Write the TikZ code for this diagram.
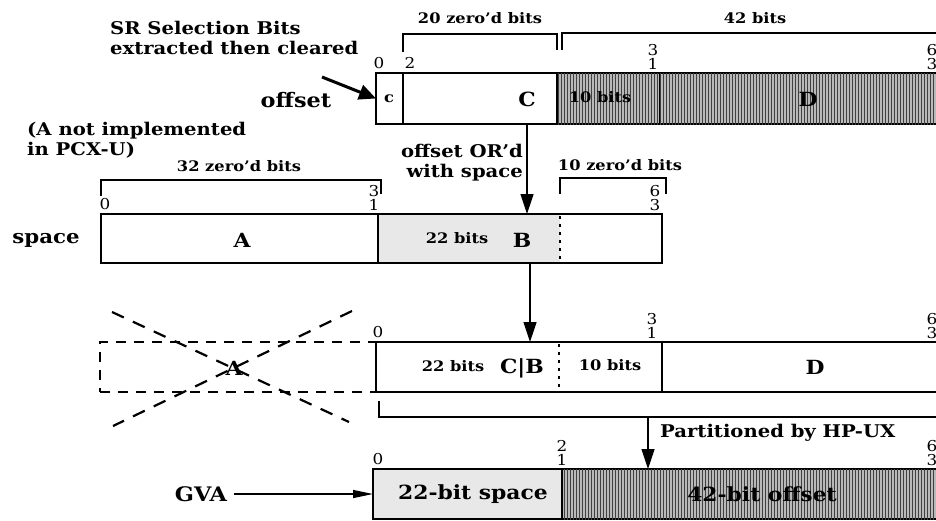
\documentclass[tikz,border=0pt]{standalone}
\usepackage{fontspec}
\setmainfont{DejaVu Serif}[FakeStretch=1.12]
\usetikzlibrary{arrows.meta,patterns}
\begin{document}
\begin{tikzpicture}[x=1pt,y=-1pt,
  cell/.style={draw,line width=1.3pt,inner sep=0pt,outer sep=0pt,anchor=north west},
  fillonly/.style={inner sep=0pt,outer sep=0pt,anchor=north west},
  light/.style={fill=gray!18},
  dark/.style={fill=gray!55,postaction={pattern=vertical lines,pattern color=black!75}},
  big/.style={font=\bfseries\fontsize{17.5}{20}\selectfont,inner sep=0pt},
  small/.style={font=\bfseries\fontsize{14.5}{16}\selectfont,inner sep=0pt},
  cellt/.style={font=\bfseries\fontsize{19.5}{22}\selectfont,inner sep=0pt},
  tick/.style={font=\fontsize{15}{15}\selectfont,inner sep=0pt},
  brk/.style={line width=1.3pt},
  arr/.style={line width=1.2pt,-{Triangle[length=20pt,width=13pt]}},
  dashbox/.style={line width=1.3pt,dash pattern=on 10pt off 8pt},
  cross/.style={line width=2.2pt,dash pattern=on 13pt off 10pt},
  dotdiv/.style={line width=2.4pt,dash pattern=on 3pt off 5pt}
]
\useasboundingbox (0,0) rectangle (936,520);
\clip (0,0) rectangle (936,520);
\fill[white] (0,0) rectangle (936,520);

% ---------- offset row ----------
\node[cell,minimum width=27pt,minimum height=51pt] (oc) at (376,73) {};
\node[cell,minimum width=154pt,minimum height=51pt] (oC) at (403,73) {};
\node[cell,dark,minimum width=103pt,minimum height=51pt] (o10) at (557,73) {};
\node[cell,dark,minimum width=300pt,minimum height=51pt] (oD) at (660,73) {};
\node[small] (tc) at (389,99) {c};
\node[cellt] (tC) at (527,99) {C};
\node[small] (t10a) at (600,97) {10 bits};
\node[cellt] (tD) at (808,99) {D};
\node[tick] (k0a) at (379,63) {0};
\node[tick] (k2a) at (410,63) {2};
\node[tick] (k3a) at (653,50) {3};
\node[tick] (k1a) at (653,64) {1};
\node[tick] (k6a) at (932,50) {6};
\node[tick] (k3b) at (932,64) {3};
\node[small] (l20) at (480,18) {20 zero'd bits};
\draw[brk] (403,52) -- (403,34) -- (557,34) -- (557,50);
\node[small] (l42) at (755,18) {42 bits};
\draw[brk] (562,50) -- (562,33) -- (945,33);
\node[cellt,font=\bfseries\fontsize{20}{22}\selectfont] (loff) at (296,100) {offset};
\node[big,align=left,anchor=west] (lsr) at (110,38) {SR Selection Bits\\extracted then cleared};
\coordinate (srs) at (322,77);
\draw[line width=3pt,-{Triangle[length=17pt,width=15pt]}] (srs) -- (oc.west);

% ---------- space row ----------
\node[big,align=left,anchor=west] (lna) at (27,140) {(A not implemented\\in PCX-U)};
\node[fillonly,light,minimum width=182pt,minimum height=49pt] (sB) at (378,214) {};
\node[cell,minimum width=561pt,minimum height=49pt] (sbox) at (101,214) {};
\draw[line width=1.3pt] (378,214) -- (378,263);
\draw[dotdiv] (560,216) -- (560,262);
\node[cellt,font=\bfseries\fontsize{19}{22}\selectfont] (lsp) at (46,240) {space};
\node[cellt] (tA) at (242,240) {A};
\node[small] (t22a) at (457,238) {22 bits};
\node[cellt] (tB) at (522,240) {B};
\node[tick] (k0b) at (105,204) {0};
\node[tick] (k3c) at (374,191) {3};
\node[tick] (k1b) at (374,205) {1};
\node[tick] (k6b) at (655,191) {6};
\node[tick] (k3d) at (655,205) {3};
\node[small] (l32) at (239,166) {32 zero'd bits};
\draw[brk] (101,196) -- (101,180) -- (381,180) -- (381,194);
\node[small] (l10) at (620,165) {10 zero'd bits};
\draw[brk] (560,194) -- (560,178) -- (666,178) -- (666,194);
\node[big,align=right,anchor=east] (lor) at (523,163) {offset OR'd\\with space};
\draw[arr] (527,124) -- (527,214);

% ---------- combined row ----------
\node[cell,dashbox,minimum width=276pt,minimum height=50pt] (dbox) at (100,342) {};
\node[cellt] (tAx) at (234,368) {A};
\draw[cross] (112,312) -- (349,422);
\draw[cross] (352,311) -- (113,426);
\node[cell,minimum width=570pt,minimum height=50pt] (tbox) at (376,342) {};
\draw[dotdiv] (559,344) -- (559,391);
\draw[line width=1.3pt] (662,342) -- (662,392);
\node[small] (t22b) at (453,366) {22 bits};
\node[cellt] (tCB) at (522,368) {C|B};
\node[small] (t10b) at (610,365) {10 bits};
\node[cellt] (tD2) at (815,367) {D};
\node[tick] (k0c) at (378,332) {0};
\node[tick] (k3e) at (652,319) {3};
\node[tick] (k1c) at (652,333) {1};
\node[tick] (k6c) at (932,319) {6};
\node[tick] (k3f) at (932,333) {3};
\draw[arr] (530,263) -- (530,342);
\draw[brk] (379,401) -- (379,417) -- (945,417);
\coordinate (pb) at (648,417);
\node[big,anchor=west] (lpart) at (660,433) {Partitioned by HP-UX};

% ---------- GVA row ----------
\node[cell,light,minimum width=189pt,minimum height=50pt] (g22) at (373,469) {};
\node[cell,dark,minimum width=390pt,minimum height=50pt] (g42) at (562,469) {};
\node[cellt] (tg22) at (473,494) {22-bit space};
\node[cellt] (tg42) at (762,494) {42-bit offset};
\node[tick] (k0d) at (378,459) {0};
\node[tick] (k2b) at (562,446) {2};
\node[tick] (k1d) at (562,460) {1};
\node[tick] (k6d) at (932,446) {6};
\node[tick] (k3g) at (932,460) {3};
\draw[arr] (pb) -- (648,469);
\node[cellt,font=\bfseries\fontsize{20}{22}\selectfont] (lgva) at (201,494) {GVA};
\draw[line width=1.2pt,-{Triangle[length=20pt,width=8pt]}] (lgva.east) ++(7,0) -- (g22.west);
\end{tikzpicture}
\end{document}
